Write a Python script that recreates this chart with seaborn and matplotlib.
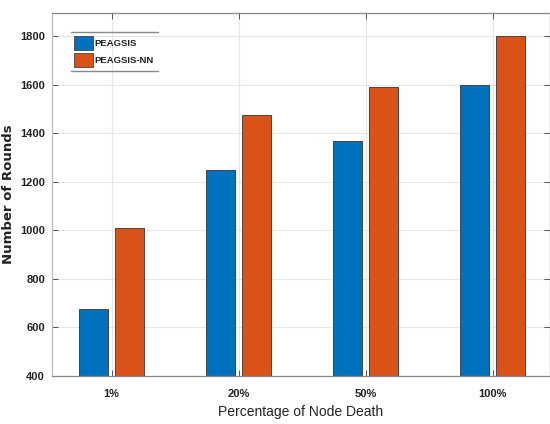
import matplotlib
matplotlib.use("Agg")
import matplotlib.pyplot as plt
from matplotlib.lines import Line2D
import pandas as pd
import seaborn as sns

# Rounds reached at each level of node death
categories = ["1%", "20%", "50%", "100%"]
peagsis = [675, 1250, 1370, 1600]
peagsis_nn = [1010, 1475, 1590, 1800]
series_names = ["PEAGSIS", "PEAGSIS-NN"]
y_ticks = [400, 600, 800, 1000, 1200, 1400, 1600, 1800]

df = pd.DataFrame({
    "category": categories * 2,
    "rounds": peagsis + peagsis_nn,
    "series": [series_names[0]] * len(categories) + [series_names[1]] * len(categories),
})

sns.set_theme(style="whitegrid")
plt.rcParams["font.family"] = ["Liberation Sans", "DejaVu Sans"]

fig = plt.figure(figsize=(5.5, 4.24), dpi=100)
ax = fig.add_axes([0.0945, 0.1132, 0.9055, 0.8558])

palette = {"PEAGSIS": "#0072BD", "PEAGSIS-NN": "#D95319"}
sns.barplot(data=df, x="category", y="rounds", hue="series", order=categories,
            hue_order=series_names, palette=palette, width=0.57, gap=0.2,
            saturation=1, edgecolor="#333333", linewidth=0.6, ax=ax)

ax.set_ylim(400, 1895)
ax.set_xlim(-0.47, 3.45)
ax.set_yticks(y_ticks)
ax.set_yticklabels([str(v) for v in y_ticks])

ax.grid(True, color="#e6e6e6", linewidth=0.8)
ax.set_axisbelow(True)
for side, sp in ax.spines.items():
    sp.set_visible(True)
    sp.set_color("#888888")
    sp.set_linewidth(0.9)
ax.spines["left"].set_color("#bbbbbb")

ax.tick_params(axis="both", direction="in", length=4, width=0.7, color="#555555",
               labelsize=8, labelcolor="#222222", pad=6)
ax.tick_params(axis="y", right=True, left=True, pad=5)
ax.tick_params(axis="x", bottom=True, top=True, pad=9)
for lab in ax.get_yticklabels() + ax.get_xticklabels():
    lab.set_fontweight("bold")

ax.set_xlabel("Percentage of Node Death", fontsize=10, color="#222222", labelpad=5)
ax.set_ylabel("Number of Rounds", fontsize=9.5, fontweight="bold", color="#222222",
              family=["DejaVu Sans"], labelpad=4)

leg = ax.legend(loc="upper left", bbox_to_anchor=(0.028, 0.96), fontsize=6.8,
                frameon=False, handlelength=2.0, handleheight=1.9,
                handletextpad=0.15, borderpad=0.4, labelspacing=0.3)
for t in leg.get_texts():
    t.set_fontweight("bold")
    t.set_color("#222222")
for h in leg.legend_handles:
    h.set_edgecolor("#444444")
    h.set_linewidth(0.6)

# Rules above and below the legend entries
fig.canvas.draw()
bb = leg.get_window_extent().transformed(fig.transFigure.inverted())
for yy in (bb.y0, bb.y1):
    fig.add_artist(Line2D([bb.x0, bb.x1], [yy, yy], transform=fig.transFigure,
                          color="#888888", linewidth=1.0))

fig.savefig("out.png", dpi=100)
